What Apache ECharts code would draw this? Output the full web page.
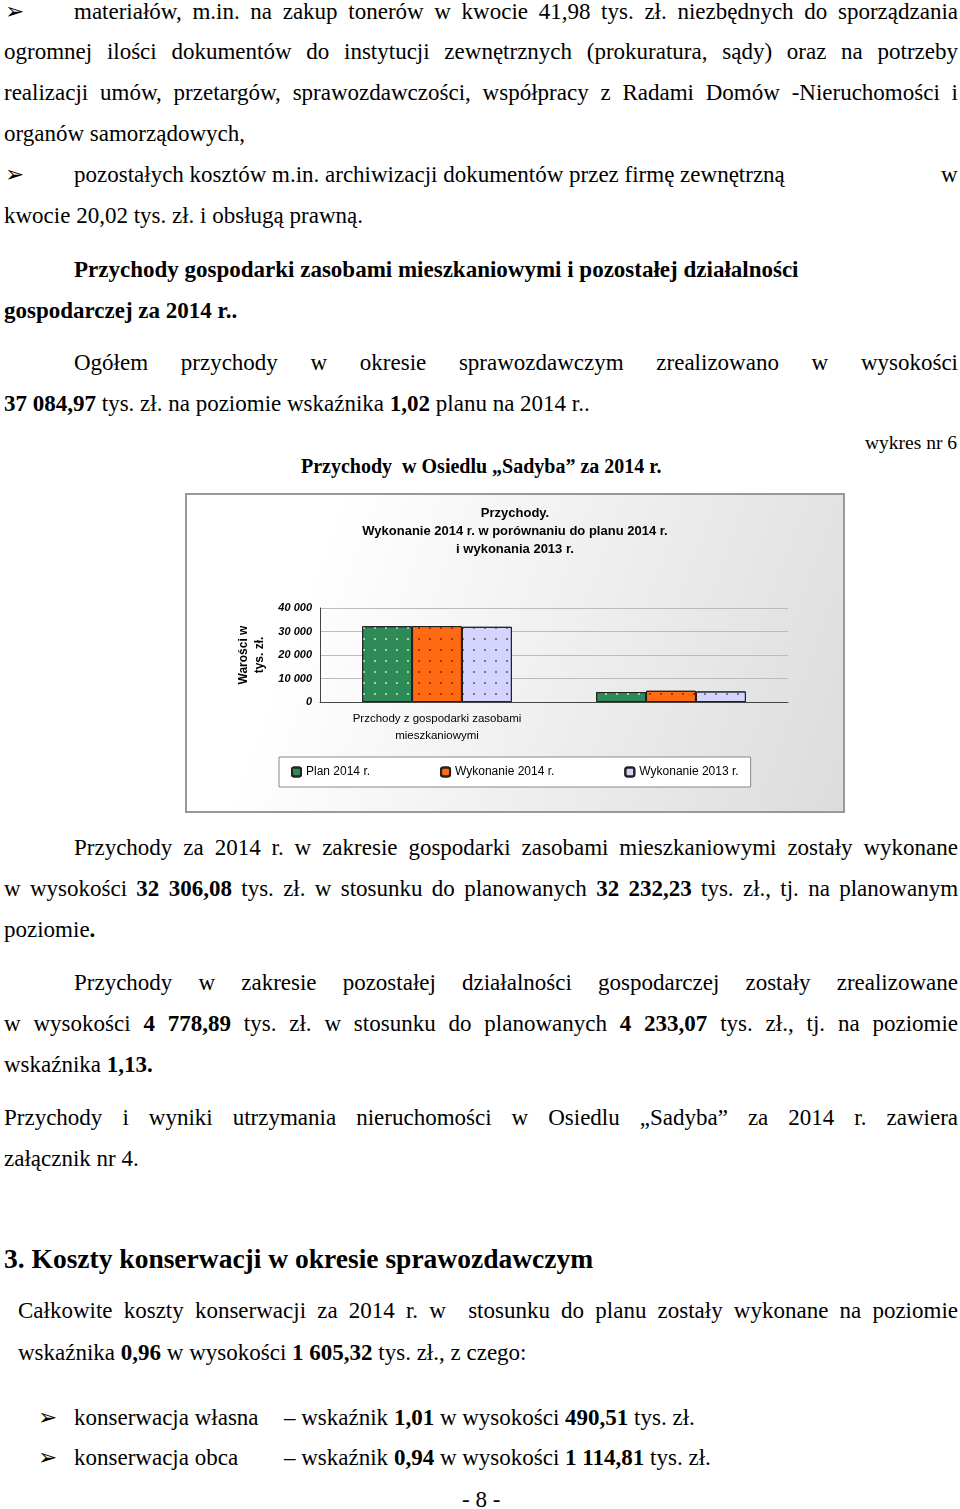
<!DOCTYPE html>
<html><head><meta charset="utf-8">
<script src="https://cdn.jsdelivr.net/npm/echarts@6/dist/echarts.min.js"></script>
<style>
body{margin:0;width:960px;height:1509px;background:#fff;position:relative;font-family:"Liberation Serif","Times New Roman",serif;font-size:23px;color:#000;overflow:hidden}
.l{position:absolute;white-space:nowrap;line-height:26px}
.j{position:absolute;text-align:justify;text-align-last:justify;line-height:26px;white-space:nowrap}
b{font-weight:bold}
#chart{position:absolute;left:185px;top:493px;width:660px;height:320px;border:2px solid #999;box-sizing:border-box;background:linear-gradient(110deg,#fff 20%,#dcdcdc 100%)}
</style></head><body>
<div class="l" style="left:5px;top:-1px">➢</div>
<div class="j" style="left:74px;top:-1px;width:884px">materiałów, m.in. na zakup tonerów w kwocie 41,98 tys. zł. niezbędnych do sporządzania</div>
<div class="j" style="left:4px;top:39px;width:954px">ogromnej ilości dokumentów do instytucji zewnętrznych (prokuratura, sądy) oraz na potrzeby</div>
<div class="j" style="left:4px;top:80px;width:954px">realizacji umów, przetargów, sprawozdawczości, współpracy z Radami Domów -Nieruchomości i</div>
<div class="l" style="left:4px;top:121px">organów samorządowych,</div>
<div class="l" style="left:5px;top:162px">➢</div>
<div class="l" style="left:74px;top:162px">pozostałych kosztów m.in. archiwizacji dokumentów przez firmę zewnętrzną</div>
<div class="l" style="left:941px;top:162px">w</div>
<div class="l" style="left:4px;top:203px">kwocie 20,02 tys. zł. i obsługą prawną.</div>
<div class="l" style="left:74px;top:257px"><b>Przychody gospodarki zasobami mieszkaniowymi i pozostałej działalności</b></div>
<div class="l" style="left:4px;top:298px"><b>gospodarczej za 2014 r..</b></div>
<div class="j" style="left:74px;top:350px;width:884px">Ogółem przychody w okresie sprawozdawczym zrealizowano w wysokości</div>
<div class="l" style="left:4px;top:391px"><b>37 084,97</b> tys. zł. na poziomie wskaźnika <b>1,02</b> planu na 2014 r..</div>
<div class="l" style="left:865px;top:430px;font-size:19.5px">wykres nr 6</div>
<div class="l" style="left:301px;top:453px;font-size:20px"><b>Przychody &nbsp;w Osiedlu „Sadyba” za 2014 r.</b></div>
<div id="chart"></div>
<div class="j" style="left:74px;top:835px;width:884px">Przychody za 2014 r. w zakresie gospodarki zasobami mieszkaniowymi zostały wykonane</div>
<div class="j" style="left:4px;top:876px;width:954px">w wysokości <b>32 306,08</b> tys. zł. w stosunku do planowanych <b>32 232,23</b> tys. zł., tj. na planowanym</div>
<div class="l" style="left:4px;top:917px">poziomie<b>.</b></div>
<div class="j" style="left:74px;top:970px;width:884px">Przychody w zakresie pozostałej działalności gospodarczej zostały zrealizowane</div>
<div class="j" style="left:4px;top:1011px;width:954px">w wysokości <b>4 778,89</b> tys. zł. w stosunku do planowanych <b>4 233,07</b> tys. zł., tj. na poziomie</div>
<div class="l" style="left:4px;top:1052px">wskaźnika <b>1,13.</b></div>
<div class="j" style="left:4px;top:1105px;width:954px">Przychody i wyniki utrzymania nieruchomości w Osiedlu „Sadyba” za 2014 r. zawiera</div>
<div class="l" style="left:4px;top:1146px">załącznik nr 4.</div>
<div class="l" style="left:4px;top:1244px;font-size:27.5px;line-height:30px"><b>3. Koszty konserwacji w okresie sprawozdawczym</b></div>
<div class="j" style="left:18px;top:1298px;width:940px">Całkowite koszty konserwacji za 2014 r. w &nbsp;stosunku do planu zostały wykonane na poziomie</div>
<div class="l" style="left:18px;top:1340px">wskaźnika <b>0,96</b> w wysokości <b>1 605,32</b> tys. zł., z czego:</div>
<div class="l" style="left:38px;top:1405px">➢</div>
<div class="l" style="left:74px;top:1405px">konserwacja własna</div>
<div class="l" style="left:284px;top:1405px">– wskaźnik <b>1,01</b> w wysokości <b>490,51</b> tys. zł.</div>
<div class="l" style="left:38px;top:1445px">➢</div>
<div class="l" style="left:74px;top:1445px">konserwacja obca</div>
<div class="l" style="left:284px;top:1445px">– wskaźnik <b>0,94</b> w wysokości <b>1 114,81</b> tys. zł.</div>
<div class="l" style="left:462px;top:1487px">- 8 -</div>
<script>
var categories = ['Przchody z gospodarki zasobami\nmieszkaniowymi', 'Przychody z pozostałej działalności\ngospodarczej'];
var planValues = [32232.23, 4233.07];
var wyk2014Values = [32306.08, 4778.89];
var wyk2013Values = [32000, 4500];
var yTicks = [0, 10000, 20000, 30000, 40000];

var chart = echarts.init(document.getElementById('chart'));
function dots(c){ return {symbol:'circle', symbolSize:1, dashArrayX:[2,9], dashArrayY:[2,9], color:c}; }
chart.setOption({
  title:{text:'Przychody.\nWykonanie 2014 r. w porównaniu do planu 2014 r.\ni wykonania 2013 r.', left:'center', top:4,
    textStyle:{fontFamily:'Liberation Sans', fontSize:13, fontWeight:'bold', lineHeight:18, color:'#000'}},
  legend:{bottom:24, left:92, width:510, itemWidth:9, itemHeight:9, itemGap:70, padding:[9,12],
    borderColor:'#888', borderWidth:1, backgroundColor:'#fff',
    textStyle:{fontFamily:'Liberation Sans Narrow, Liberation Sans', fontSize:12, color:'#000'}},
  grid:{left:133, top:113, height:94, right:55},
  xAxis:{type:'category', data:categories, axisTick:{show:false}, axisLine:{lineStyle:{color:'#444'}},
    axisLabel:{fontFamily:'Liberation Sans', fontSize:11.5, color:'#000', lineHeight:17, margin:8}},
  yAxis:{type:'value', min:yTicks[0], max:yTicks[yTicks.length-1], interval:10000,
    name:'Warości w\ntys. zł.', nameLocation:'middle', nameGap:48, nameRotate:90,
    nameTextStyle:{fontFamily:'Liberation Sans', fontSize:12, fontWeight:'bold', color:'#000', lineHeight:16},
    axisLine:{show:true, lineStyle:{color:'#444'}}, splitLine:{lineStyle:{color:'#bbb'}},
    axisLabel:{fontFamily:'Liberation Sans', fontSize:11, fontStyle:'italic', fontWeight:'bold', color:'#000',
      formatter:function(v){ return v === 0 ? '0' : String(v).replace(/(\d)(?=(\d{3})+$)/g,'$1 '); }}},
  series:[
    {name:'Plan 2014 r.', type:'bar', data:planValues, barGap:0, barCategoryGap:'36%',
      itemStyle:{color:'#2e8b57', borderColor:'#222', borderWidth:1, decal:dots('#cfe8d8')}},
    {name:'Wykonanie 2014 r.', type:'bar', data:wyk2014Values,
      itemStyle:{color:'#ff6a13', borderColor:'#222', borderWidth:1, decal:dots('#7a2a00')}},
    {name:'Wykonanie 2013 r.', type:'bar', data:wyk2013Values,
      itemStyle:{color:'#d4d4ff', borderColor:'#222', borderWidth:1, decal:dots('#555577')}}
  ]
});
</script>
</body></html>
